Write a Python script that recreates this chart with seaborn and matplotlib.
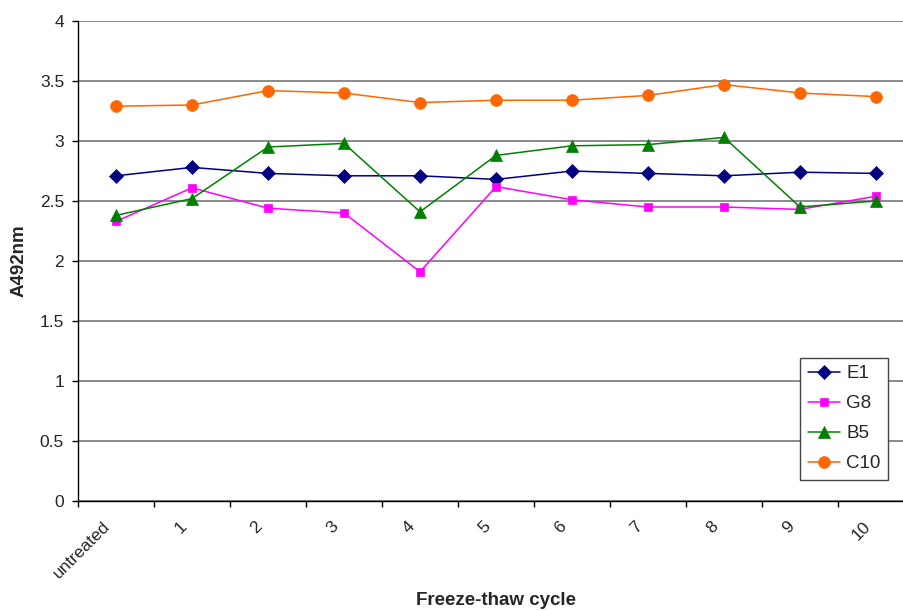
import matplotlib
matplotlib.use("Agg")
import matplotlib.pyplot as plt
import matplotlib.transforms as mtransforms
import numpy as np
import seaborn as sns

# Freeze-thaw stability of antibody binding (absorbance at 492 nm)
cycles = ["untreated", "1", "2", "3", "4", "5", "6", "7", "8", "9", "10"]
e1 = [2.71, 2.78, 2.73, 2.71, 2.71, 2.68, 2.75, 2.73, 2.71, 2.74, 2.73]
g8 = [2.33, 2.61, 2.44, 2.40, 1.91, 2.62, 2.51, 2.45, 2.45, 2.43, 2.54]
b5 = [2.38, 2.52, 2.95, 2.98, 2.41, 2.88, 2.96, 2.97, 3.03, 2.45, 2.50]
c10 = [3.29, 3.30, 3.42, 3.40, 3.32, 3.34, 3.34, 3.38, 3.47, 3.40, 3.37]

series = [
    ("E1", e1, "#000080", "D", 7.0),
    ("G8", g8, "#FF00FF", "s", 6.0),
    ("B5", b5, "#008000", "^", 8.5),
    ("C10", c10, "#FF6600", "o", 8.5),
]

sns.set_style("white")
plt.rcParams["font.family"] = ["Liberation Sans", "DejaVu Sans"]

fig = plt.figure(figsize=(9.04, 6.11), dpi=100)
W, H = 904, 611
ax = fig.add_axes([78 / W, (H - 501) / H, 836 / W, 480 / H])

pos = np.arange(len(cycles))
for name, vals, color, marker, ms in series:
    sns.lineplot(x=pos, y=vals, ax=ax, color=color, marker=marker,
                 markersize=ms, markeredgecolor=color, markeredgewidth=0.5,
                 linewidth=1.1, label=name, zorder=3)

ax.set_xlim(-0.5, 10.5)
ax.set_ylim(0, 4)
ax.set_yticks(np.arange(0, 4.01, 0.5))
ax.set_yticklabels(["0", "0.5", "1", "1.5", "2", "2.5", "3", "3.5", "4"])
ax.yaxis.grid(True, color="#777777", linewidth=1.2, zorder=0)
ax.xaxis.grid(False)
ax.set_axisbelow(True)

for side in ("top", "right"):
    ax.spines[side].set_visible(False)
for side in ("left", "bottom"):
    ax.spines[side].set_color("black")
    ax.spines[side].set_linewidth(1.0)

ax.tick_params(axis="y", which="major", left=True, length=4, width=1,
               color="black", pad=6, labelsize=12.5)

# Category labels at the centres, tick marks on the boundaries
ax.set_xticks(pos)
ax.set_xticks(np.arange(-0.5, 10.6, 1.0), minor=True)
ax.set_xticklabels(cycles)
ax.tick_params(axis="x", which="major", bottom=True, length=0, pad=16.5,
               labelsize=12.5)
ax.tick_params(axis="x", which="minor", bottom=True, length=4.5, width=1,
               color="black")
shift = mtransforms.ScaledTranslation(-8 / 100, 0, fig.dpi_scale_trans)
for lab in ax.get_xticklabels():
    lab.set_rotation(45)
    lab.set_rotation_mode("anchor")
    lab.set_ha("right")
    lab.set_va("center")
    lab.set_transform(lab.get_transform() + shift)

ax.set_ylabel("A492nm", fontsize=13.5, fontweight="bold", labelpad=9)
ax.set_xlabel("Freeze-thaw cycle", fontsize=13.5, fontweight="bold")
ax.xaxis.set_label_coords(0.5, -0.19)

leg = ax.legend(loc="lower center", bbox_to_anchor=(844 / W, (H - 480) / H),
                bbox_transform=fig.transFigure, fontsize=13.5, frameon=True,
                fancybox=False, framealpha=1, edgecolor="#444444",
                borderpad=0.42, labelspacing=0.68, handlelength=1.75,
                handletextpad=0.3, borderaxespad=0)
leg.get_frame().set_linewidth(1.0)

fig.savefig("out.png", dpi=100, facecolor="white")
